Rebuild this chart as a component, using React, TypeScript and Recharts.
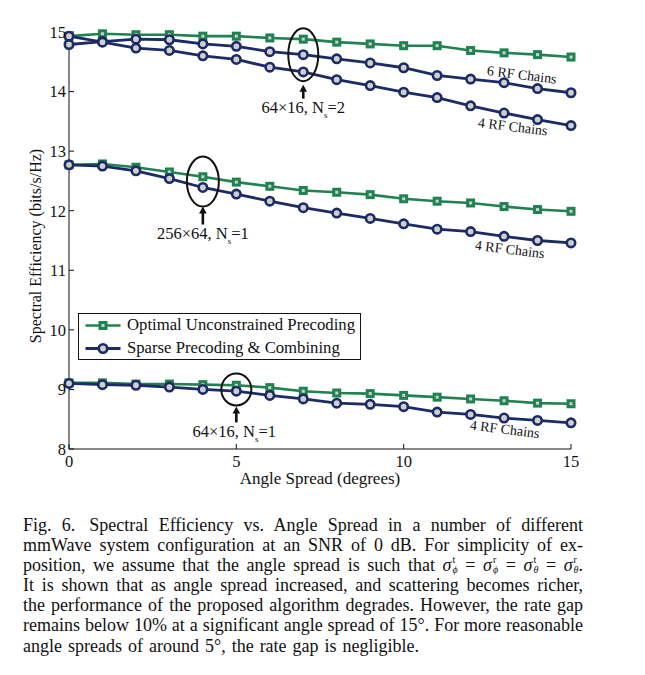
import { Label, Line, LineChart, ReferenceDot, XAxis, YAxis } from "recharts";

const angle = [0, 1, 2, 3, 4, 5, 6, 7, 8, 9, 10, 11, 12, 13, 14, 15];

// 64x16, Ns=2
const opt64x16Ns2 = [14.93, 14.97, 14.955, 14.955, 14.93, 14.93, 14.9, 14.88, 14.83, 14.8, 14.77, 14.77, 14.69, 14.65, 14.62, 14.58];
const sparse6rf = [14.79, 14.84, 14.88, 14.87, 14.8, 14.76, 14.67, 14.62, 14.55, 14.48, 14.4, 14.27, 14.21, 14.15, 14.05, 13.98];
const sparse4rfNs2 = [14.93, 14.83, 14.73, 14.69, 14.6, 14.54, 14.41, 14.33, 14.2, 14.1, 13.99, 13.9, 13.76, 13.64, 13.53, 13.43];
// 256x64, Ns=1
const opt256x64 = [12.77, 12.785, 12.73, 12.65, 12.57, 12.48, 12.41, 12.34, 12.31, 12.27, 12.2, 12.16, 12.13, 12.07, 12.02, 11.99];
const sparse256x64 = [12.77, 12.75, 12.67, 12.54, 12.39, 12.28, 12.16, 12.05, 11.96, 11.87, 11.78, 11.69, 11.65, 11.57, 11.5, 11.46];
// 64x16, Ns=1
const opt64x16Ns1 = [9.11, 9.11, 9.09, 9.09, 9.08, 9.07, 9.03, 8.97, 8.94, 8.93, 8.9, 8.87, 8.84, 8.81, 8.77, 8.76];
const sparse64x16Ns1 = [9.1, 9.08, 9.07, 9.04, 9.0, 8.97, 8.9, 8.84, 8.77, 8.75, 8.71, 8.62, 8.58, 8.52, 8.48, 8.44];

const xTicks = [0, 5, 10, 15];
const yTicks = [8, 9, 10, 11, 12, 13, 14, 15];

const data = angle.map((a, i) => ({
  angle: a,
  opt64x16Ns2: opt64x16Ns2[i],
  sparse6rf: sparse6rf[i],
  sparse4rfNs2: sparse4rfNs2[i],
  opt256x64: opt256x64[i],
  sparse256x64: sparse256x64[i],
  opt64x16Ns1: opt64x16Ns1[i],
  sparse64x16Ns1: sparse64x16Ns1[i],
}));

const GREEN = "#1f8250";
const NAVY = "#1c2a66";
const DOTFILL = "#cfcfcf";
const FONT = '"Liberation Serif", "Times New Roman", serif';

const SquareDot = (props: any) => {
  const { cx, cy, index } = props;
  return (
    <g key={`sq-${index}`}>
      <rect x={cx - 4.5} y={cy - 4.5} width={9} height={9} fill={GREEN} />
      <rect x={cx - 1.5} y={cy - 1.5} width={3} height={3} fill={DOTFILL} />
    </g>
  );
};

const CircleDot = (props: any) => {
  const { cx, cy, index } = props;
  return <circle key={`c-${index}`} cx={cx} cy={cy} r={4.2} fill={DOTFILL} stroke={NAVY} strokeWidth={2.6} />;
};

const annot = (rx: number, ry: number, tip: number, base: number, textY: number, textDx: number, main: string, sub: string, tail: string) =>
  (p: any) => {
    const { cx, cy } = p;
    return (
      <g>
        <ellipse cx={cx} cy={cy} rx={rx} ry={ry} fill="none" stroke="#111" strokeWidth={2} />
        <line x1={cx} y1={cy + tip + 5} x2={cx} y2={cy + base} stroke="#111" strokeWidth={2.6} />
        <path d={`M${cx},${cy + tip} L${cx - 3.8},${cy + tip + 7} L${cx + 3.8},${cy + tip + 7} Z`} fill="#111" />
        <text x={cx + textDx} y={cy + textY} textAnchor="middle" fontFamily={FONT} fontSize={16.5} fill="#111">
          {main}
          <tspan fontSize={9} dy={5}>{sub}</tspan>
          <tspan dy={-5}>{tail}</tspan>
        </text>
      </g>
    );
  };

const rfLabel = (text: string) => (p: any) => (
  <text
    x={p.cx}
    y={p.cy}
    transform={`rotate(7, ${p.cx}, ${p.cy})`}
    textAnchor="middle"
    dominantBaseline="central"
    fontFamily={FONT}
    fontSize={14}
    fill="#111"
  >
    {text}
  </text>
);

const Sigma = ({ sup, sub }: { sup: string; sub: string }) => (
  <span style={{ display: "inline-flex", alignItems: "flex-start", verticalAlign: "top" }}>
    <i>σ</i>
    <span
      style={{
        display: "inline-flex",
        flexDirection: "column",
        fontSize: 10,
        lineHeight: "10px",
        marginLeft: 1,
      }}
    >
      <span>{sup}</span>
      <i>{sub}</i>
    </span>
  </span>
);

const lineStyle = { display: "block", textAlign: "justify" as const, textAlignLast: "justify" as const, whiteSpace: "nowrap" as const };

export default function App() {
  return (
    <div style={{ position: "relative", width: 629, height: 655, fontFamily: FONT, color: "#111" }}>
      <LineChart width={629} height={490} data={data} margin={{ top: 24, right: 66, bottom: 19, left: 21 }}>
        <XAxis
          xAxisId="b"
          dataKey="angle"
          type="number"
          domain={[0, 15]}
          ticks={xTicks}
          height={30}
          stroke="#111"
          tickSize={-5}
          tickMargin={11}
          tick={{ fill: "#111", fontSize: 16.5, fontFamily: FONT }}
        >
          <Label
            content={(p: any) => (
              <text x={p.viewBox.x + p.viewBox.width / 2} y={476} textAnchor="middle" fontFamily={FONT} fontSize={17} fill="#111">
                Angle Spread (degrees)
              </text>
            )}
          />
        </XAxis>
        <XAxis
          xAxisId="t"
          dataKey="angle"
          type="number"
          orientation="top"
          domain={[0, 15]}
          ticks={xTicks}
          height={0}
          stroke="#111"
          tickSize={-5}
          tick={false}
        />
        <YAxis
          yAxisId="l"
          type="number"
          domain={[8, 15]}
          ticks={yTicks}
          width={40}
          stroke="#111"
          tickSize={-5}
          tickMargin={8}
          tick={{ fill: "#111", fontSize: 16.5, fontFamily: FONT }}
        >
          <Label
            content={() => (
              <text x={33} y={238} transform="rotate(-90, 33, 238)" textAnchor="middle" fontFamily={FONT} fontSize={16} fill="#111">
                Spectral Efficiency (bits/s/Hz)
              </text>
            )}
          />
        </YAxis>
        <YAxis yAxisId="r" type="number" orientation="right" domain={[8, 15]} ticks={yTicks} width={0} stroke="#111" tickSize={-5} tick={false} />

        <Line xAxisId="b" yAxisId="l" dataKey="opt64x16Ns2" stroke={GREEN} strokeWidth={2.6} dot={SquareDot} isAnimationActive={false} />
        <Line xAxisId="b" yAxisId="l" dataKey="opt256x64" stroke={GREEN} strokeWidth={2.6} dot={SquareDot} isAnimationActive={false} />
        <Line xAxisId="b" yAxisId="l" dataKey="opt64x16Ns1" stroke={GREEN} strokeWidth={2.6} dot={SquareDot} isAnimationActive={false} />
        <Line xAxisId="b" yAxisId="l" dataKey="sparse6rf" stroke={NAVY} strokeWidth={2.8} dot={CircleDot} isAnimationActive={false} />
        <Line xAxisId="b" yAxisId="l" dataKey="sparse4rfNs2" stroke={NAVY} strokeWidth={2.8} dot={CircleDot} isAnimationActive={false} />
        <Line xAxisId="b" yAxisId="l" dataKey="sparse256x64" stroke={NAVY} strokeWidth={2.8} dot={CircleDot} isAnimationActive={false} />
        <Line xAxisId="b" yAxisId="l" dataKey="sparse64x16Ns1" stroke={NAVY} strokeWidth={2.8} dot={CircleDot} isAnimationActive={false} />

        <ReferenceDot xAxisId="b" yAxisId="l" x={7} y={14.62} ifOverflow="visible" shape={annot(15, 26.5, 30, 44, 58, 0, "64×16, N", "s", "=2")} />
        <ReferenceDot xAxisId="b" yAxisId="l" x={4} y={12.49} ifOverflow="visible" shape={annot(16, 25, 25, 43, 57, 0, "256×64, N", "s", "=1")} />
        <ReferenceDot xAxisId="b" yAxisId="l" x={5} y={9.0} ifOverflow="visible" shape={annot(15, 16, 17, 33, 48, -2, "64×16, N", "s", "=1")} />

        <ReferenceDot xAxisId="b" yAxisId="l" x={13.53} y={14.28} ifOverflow="visible" shape={rfLabel("6 RF Chains")} />
        <ReferenceDot xAxisId="b" yAxisId="l" x={13.26} y={13.41} ifOverflow="visible" shape={rfLabel("4 RF Chains")} />
        <ReferenceDot xAxisId="b" yAxisId="l" x={13.17} y={11.35} ifOverflow="visible" shape={rfLabel("4 RF Chains")} />
        <ReferenceDot xAxisId="b" yAxisId="l" x={13.02} y={8.33} ifOverflow="visible" shape={rfLabel("4 RF Chains")} />
      </LineChart>

      <div
        style={{
          position: "absolute",
          left: 70,
          top: 305,
          width: 281,
          height: 45,
          border: "1px solid #111",
          background: "#fff",
          fontSize: 16.7,
        }}
      >
        <svg width={44} height={45} style={{ position: "absolute", left: 0, top: 0 }}>
          <line x1={6.5} y1={11.5} x2={41.5} y2={11.5} stroke={GREEN} strokeWidth={2.6} />
          <rect x={19.5} y={7} width={9} height={9} fill={GREEN} />
          <rect x={22.5} y={10} width={3} height={3} fill={DOTFILL} />
          <line x1={6.5} y1={34.5} x2={41.5} y2={34.5} stroke={NAVY} strokeWidth={2.8} />
          <circle cx={24} cy={34.5} r={4.2} fill={DOTFILL} stroke={NAVY} strokeWidth={2.6} />
        </svg>
        <div style={{ position: "absolute", left: 48, top: 1, lineHeight: "20px", whiteSpace: "nowrap" }}>Optimal Unconstrained Precoding</div>
        <div style={{ position: "absolute", left: 48, top: 24, lineHeight: "20px", whiteSpace: "nowrap" }}>Sparse Precoding &amp; Combining</div>
      </div>

      <div style={{ position: "absolute", left: 15, top: 507, width: 560, fontSize: 18, lineHeight: "20.1px" }}>
        <span style={lineStyle}>
          Fig. 6.<span style={{ marginLeft: 14 }} />Spectral Efficiency vs. Angle Spread in a number of different
        </span>
        <span style={lineStyle}>mmWave system configuration at an SNR of 0 dB. For simplicity of ex-</span>
        <span style={lineStyle}>
          position, we assume that the angle spread is such that <Sigma sup="t" sub="ϕ" /> = <Sigma sup="r" sub="ϕ" /> ={" "}
          <Sigma sup="t" sub="θ" /> = <Sigma sup="r" sub="θ" />.
        </span>
        <span style={lineStyle}>It is shown that as angle spread increased, and scattering becomes richer,</span>
        <span style={lineStyle}>the performance of the proposed algorithm degrades. However, the rate gap</span>
        <span style={lineStyle}>remains below 10% at a significant angle spread of 15°. For more reasonable</span>
        <span style={{ display: "block", whiteSpace: "nowrap", wordSpacing: 1.5 }}>angle spreads of around 5°, the rate gap is negligible.</span>
      </div>
    </div>
  );
}
